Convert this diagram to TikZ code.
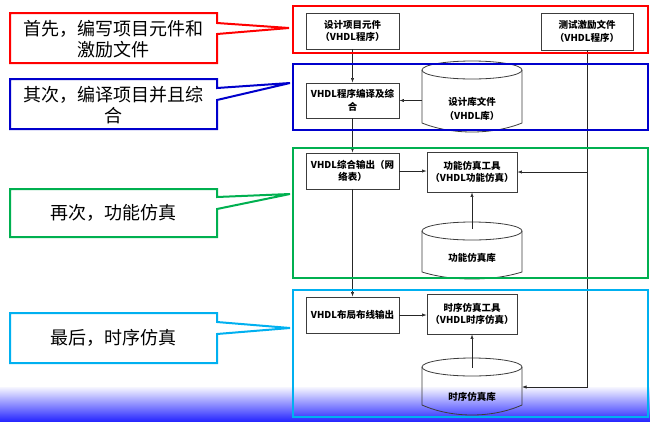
\documentclass[tikz,border=0pt]{standalone}
\usepackage{fontspec}
\newfontfamily\cjk{Noto Sans CJK SC}
\usetikzlibrary{arrows.meta}
\definecolor{cred}{RGB}{255,0,0}
\definecolor{cblue}{RGB}{0,0,204}
\definecolor{cgreen}{RGB}{0,176,80}
\definecolor{ccyan}{RGB}{0,176,240}
\definecolor{gradtop}{RGB}{246,246,255}
\definecolor{gradblue}{RGB}{40,40,255}
\definecolor{ink}{RGB}{60,60,60}
\tikzset{
  callout/.style={line width=2pt, fill=white, line join=miter},
  stage/.style={line width=2pt},
  box/.style={draw=ink, line width=0.8pt, fill=white, align=center, inner sep=1pt,
    font=\cjk\bfseries\fontsize{9.5}{12.5}\selectfont},
  cyl/.style={draw=ink, line width=0.8pt},
  cyltext/.style={align=center, inner sep=0pt, font=\cjk\bfseries\fontsize{9.5}{13.5}\selectfont},
  arr/.style={-{Latex[length=4.5pt,width=3.2pt]}, line width=0.6pt, draw=black!85},
  link/.style={line width=0.6pt, draw=black!85},
  calltext/.style={align=center, inner sep=0pt, font=\cjk\fontsize{18}{21}\selectfont}
}
% #1 L, #2 R, #3 top, #4 side bottom, #5 lowest point of bottom
\newcommand{\drawcyl}[5]{%
  \draw[cyl] ({(#1+#2)/2},#3+9) ellipse [x radius={(#2-#1)/2}, y radius=9];
  \draw[cyl] (#1,#3+9) -- (#1,#4)
     .. controls ({#1+0.3*(#2-#1)},{#4+(#5-#4)*4/3}) and ({#2-0.3*(#2-#1)},{#4+(#5-#4)*4/3}) .. (#2,#4)
     -- (#2,#3+9);
}
\begin{document}
\begin{tikzpicture}[x=1pt,y=-1pt]
\useasboundingbox (0,0) rectangle (650,421);
% bottom gradient band
\shade[top color=gradtop, bottom color=gradblue] (0,387) rectangle (650,421);

% callouts
\draw[callout, draw=cred] (10,13) -- (217,13) -- (217,23) -- (289,28) -- (217,34) -- (217,63) -- (10,63) -- cycle;
\node[calltext] (c1) at (113.5,39) {首先，编写项目元件和\\激励文件};
\draw[callout, draw=cblue] (10,79) -- (217,79) -- (217,88) -- (290,83) -- (217,100) -- (217,129) -- (10,129) -- cycle;
\node[calltext] (c2) at (113.5,105) {其次，编译项目并且综\\合};
\draw[callout, draw=cgreen] (10,189) -- (217,189) -- (217,197) -- (290,194) -- (217,209) -- (217,237) -- (10,237) -- cycle;
\node[calltext] (c3) at (113.5,213) {再次，功能仿真};
\draw[callout, draw=ccyan] (10,313) -- (217,313) -- (217,322) -- (290,328) -- (217,334) -- (217,363) -- (10,363) -- cycle;
\node[calltext] (c4) at (113.5,338) {最后，时序仿真};

% cylinders
\drawcyl{422}{522}{61}{123}{132}
\node[cyltext] (lib) at (472,109) {设计库文件\\（VHDL库）};
\coordinate (libw) at (422,100);
\drawcyl{422}{522}{222}{272}{279}
\node[cyltext] (flib) at (472,258) {功能仿真库};
\coordinate (flibtop) at (472,229);
\drawcyl{422}{522}{358}{405}{415}
\node[cyltext] (tlib) at (472,397) {时序仿真库};
\coordinate (tlibtop) at (472,368);
\coordinate (tlibe) at (522,387);

% boxes
\node[box, minimum width=93pt, minimum height=36pt] (d1) at (352.5,31) {设计项目元件\\（VHDL程序）};
\node[box, minimum width=92pt, minimum height=37pt] (test) at (587,31.5) {测试激励文件\\（VHDL程序）};
\node[box, minimum width=93pt, minimum height=35pt] (comp) at (352.5,100.5) {VHDL程序编译及综\\合};
\node[box, minimum width=93pt, minimum height=36pt] (synth) at (352.5,171) {VHDL综合输出（网\\络表）};
\node[box, minimum width=90pt, minimum height=40pt] (ftool) at (472,172) {功能仿真工具\\（VHDL功能仿真）};
\node[box, minimum width=93pt, minimum height=36pt] (pr) at (352.5,315) {VHDL布局布线输出};
\node[box, minimum width=90pt, minimum height=40pt] (ttool) at (472,314) {时序仿真工具\\（VHDL时序仿真）};

% connectors
\draw[arr] (d1.south) -- (comp.north);
\draw[arr] (libw |- comp.east) -- (comp.east);
\draw[arr] (comp.south) -- (synth.north);
\draw[arr] (synth.east) -- (synth.east -| ftool.west);
\draw[arr] (synth.south) -- (pr.north);
\draw[arr] (pr.east) -- (pr.east -| ttool.west);
\draw[arr] (flibtop) -- (ftool.south);
\draw[arr] (tlibtop) -- (ttool.south);
\coordinate (tcorner) at (test.south |- tlibe);
\draw[arr] (test.south) -- (tcorner) -- (tlibe);
\draw[arr] (ftool.east -| test.south) -- (ftool.east);

% stage frames
\draw[stage, draw=cred] (293,6) rectangle (648,53);
\draw[stage, draw=cblue] (293,64) rectangle (648,130);
\draw[stage, draw=cgreen] (293,148) rectangle (648,278);
\draw[stage, draw=ccyan] (293,290) rectangle (648,417);
\end{tikzpicture}
\end{document}
